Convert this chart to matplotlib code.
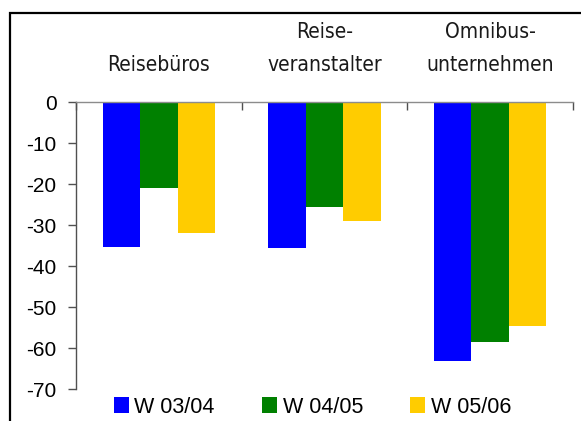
import numpy as np
import matplotlib
matplotlib.use("Agg")
import matplotlib.pyplot as plt
from matplotlib import font_manager
from matplotlib.patches import Rectangle

# data -------------------------------------------------------------------
categories = ["Reisebüros", "Reise-\nveranstalter", "Omnibus-\nunternehmen"]
seasons = ["W 03/04", "W 04/05", "W 05/06"]
w0304 = [-35.3, -35.5, -63.1]
w0405 = [-20.8, -25.5, -58.5]
w0506 = [-31.9, -29.0, -54.5]
yticks = [0, -10, -20, -30, -40, -50, -60, -70]

colors = ["#0000FF", "#008000", "#FFCC00"]
plt.rcParams["font.family"] = ["Liberation Sans", "DejaVu Sans"]

# the category labels use a narrow face; take one if any is installed
narrow = None
for f in font_manager.fontManager.ttflist:
    if f.stretch in ("condensed", "semi-condensed") or "Narrow" in f.name or "Condensed" in f.name:
        if f.style == "normal" and f.weight in (400, "normal", "regular"):
            narrow = f.fname
            break
if narrow:
    cat_font = dict(fontproperties=font_manager.FontProperties(fname=narrow, size=15))
else:
    cat_font = dict(fontsize=15, family=["Liberation Sans", "DejaVu Sans"])

fig = plt.figure(figsize=(5.81, 4.21), dpi=100)
ax = fig.add_axes([76 / 581, 1 - 389.3 / 421, (573 - 76) / 581, (389.3 - 102.3) / 421])

x = np.arange(len(categories))
bw = 0.226
for i, (vals, c, lab) in enumerate(zip([w0304, w0405, w0506], colors, seasons)):
    ax.bar(x + (i - 1) * bw, vals, width=bw, color=c, label=lab, linewidth=0)

ax.set_xlim(-0.5, 2.5)
ax.set_ylim(-70, 0)

# zero line = top spine, with group separators ticking down
for s in ["right", "bottom"]:
    ax.spines[s].set_visible(False)
ax.spines["top"].set_color("#8c8c8c")
ax.spines["top"].set_linewidth(1.0)
ax.spines["left"].set_color("#505050")
ax.spines["left"].set_linewidth(1.0)
ax.xaxis.tick_top()
ax.set_xticks([-0.5, 0.5, 1.5, 2.5])
ax.set_xticklabels([])
ax.tick_params(axis="x", direction="in", length=6, width=1.0, color="#505050")

ax.set_yticks(yticks)
ax.set_yticklabels([str(t) for t in yticks])
ax.tick_params(axis="y", direction="out", length=6, width=1.0, color="#505050",
               labelsize=15, pad=8)

# category labels above the zero line, one line at a time (33 px apart)
for xi, cat in zip(x, categories):
    lines = cat.split("\n")
    for k, line in enumerate(reversed(lines)):
        ax.annotate(line, xy=(xi, 0), xytext=(0, 22.5 + k * 23.8), textcoords="offset points",
                    ha="center", va="baseline", color="#1a1a1a",
                    annotation_clip=False, **cat_font)

fig.legend(loc="center", bbox_to_anchor=(0.538, 0.033), ncol=3, frameon=False,
           fontsize=15.5, handlelength=0.7, handleheight=0.8, handletextpad=0.25,
           columnspacing=2.2, borderpad=0)

# outer frame, cut off by the right and bottom edges
fig.patches.append(Rectangle((9.5 / 581, -0.5), 1.5, 0.968 + 0.5, transform=fig.transFigure,
                             fill=False, edgecolor="black", linewidth=1.6))

fig.savefig("out.png", dpi=100)
